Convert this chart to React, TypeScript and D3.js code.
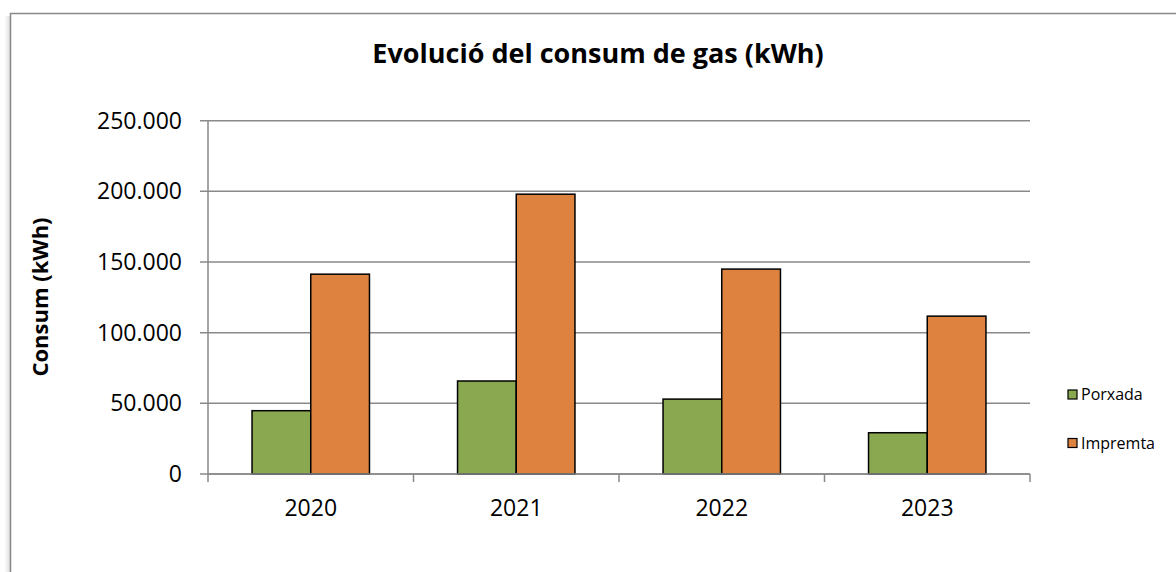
import * as d3 from 'd3';

const years = ['2020', '2021', '2022', '2023'];
const seriesNames = ['Porxada', 'Impremta'];
const porxada = [44800, 65800, 53000, 29200];
const impremta = [141400, 198000, 145000, 111700];
const yTicks = [0, 50000, 100000, 150000, 200000, 250000];

const colors: Record<string, string> = { Porxada: '#8AA84F', Impremta: '#DD833F' };

const W = 1176;
const H = 572;
const left = 208;
const right = 1030;
const top = 120.7;
const bottom = 474;

const fontFam = "'Open Sans', 'Noto Sans', sans-serif";
const locale = d3.formatLocale({ decimal: ',', thousands: '.', grouping: [3], currency: ['', '€'] });
const fmt = locale.format(',d');

const App = () => {
  const x = d3.scaleBand().domain(years).range([left, right]).paddingInner(0).paddingOuter(0);
  const inner = d3.scaleBand().domain(seriesNames).range([0, x.bandwidth()]).paddingInner(0).paddingOuter(0.75);
  const y = d3.scaleLinear().domain([0, 250000]).range([bottom, top]);

  const rows = years.map((yr, i) => ({ year: yr, Porxada: porxada[i], Impremta: impremta[i] }));
  const grid = '#898989';

  return (
    <div style={{ position: 'absolute', left: 0, top: 0 }}>
      <svg width={W} height={H} style={{ display: 'block', background: '#fff' }}>
        <defs>
          <linearGradient id="shadowL" x1="0" x2="1" y1="0" y2="0">
            <stop offset="0" stopColor="#000" stopOpacity="0" />
            <stop offset="1" stopColor="#000" stopOpacity="0.12" />
          </linearGradient>
        </defs>
        {/* chart frame, cut off by the picture edges */}
        <rect x={4} y={16} width={6} height={H} fill="url(#shadowL)" />
        <rect x={10.5} y={13.5} width={W + 20} height={H + 20} fill="#fff" stroke={grid} strokeWidth={1.5} />

        <text
          x={598}
          y={63}
          textAnchor="middle"
          fontFamily={fontFam}
          fontWeight="bold"
          fontSize={27}
          fill="#000"
        >
          Evolució del consum de gas (kWh)
        </text>

        {/* gridlines + y ticks */}
        {yTicks.map((t) => (
          <g key={t}>
            <line x1={200} x2={right} y1={y(t)} y2={y(t)} stroke={grid} strokeWidth={1.5} />
            <text
              x={182}
              y={y(t)}
              dy="0.35em"
              textAnchor="end"
              fontFamily={fontFam}
              fontSize={23}
              fill="#000"
            >
              {fmt(t)}
            </text>
          </g>
        ))}
        <line x1={left} x2={left} y1={top} y2={bottom} stroke={grid} strokeWidth={1.5} />

        {/* bars */}
        {rows.map((r) => (
          <g key={r.year} transform={`translate(${x(r.year)},0)`}>
            {seriesNames.map((s) => (
              <rect
                key={s}
                x={inner(s)}
                y={y((r as any)[s])}
                width={inner.bandwidth()}
                height={bottom - y((r as any)[s])}
                fill={colors[s]}
                stroke="#000"
                strokeWidth={1.5}
              />
            ))}
          </g>
        ))}

        {/* x axis */}
        <line x1={left} x2={right} y1={bottom} y2={bottom} stroke={grid} strokeWidth={1.5} />
        {[...years.map((yr) => x(yr) as number), right].map((px, i) => (
          <line key={i} x1={px} x2={px} y1={bottom} y2={bottom + 8} stroke={grid} strokeWidth={1.5} />
        ))}
        {years.map((yr) => (
          <text
            key={yr}
            x={(x(yr) as number) + x.bandwidth() / 2}
            y={516}
            textAnchor="middle"
            fontFamily={fontFam}
            fontSize={23}
            fill="#000"
          >
            {yr}
          </text>
        ))}

        <text
          transform="translate(48,297) rotate(-90)"
          textAnchor="middle"
          fontFamily={fontFam}
          fontWeight="bold"
          fontSize={22}
          fill="#000"
        >
          Consum (kWh)
        </text>

        {/* legend */}
        {seriesNames.map((s, i) => (
          <g key={s} transform={`translate(1068,${390 + i * 48.5})`}>
            <rect x={0} y={0} width={9} height={9} fill={colors[s]} stroke="#000" strokeWidth={1.2} />
            <text x={13} y={4.5} dy="0.35em" fontFamily={fontFam} fontSize={16} fill="#000">
              {s}
            </text>
          </g>
        ))}
      </svg>
    </div>
  );
};

export default App;
